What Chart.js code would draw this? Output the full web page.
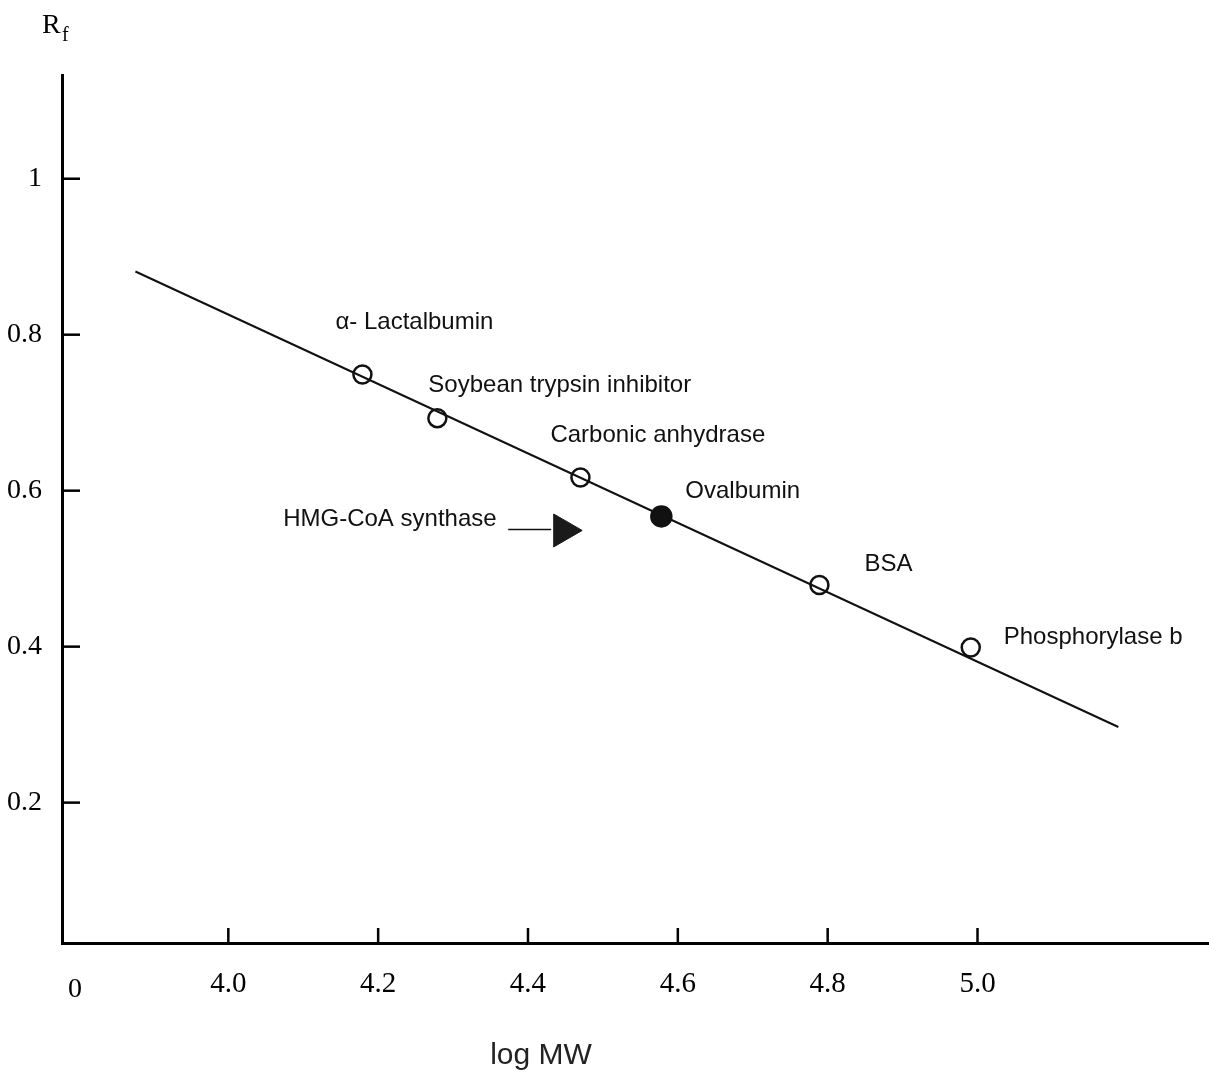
<!DOCTYPE html>
<html>
<head>
<meta charset="utf-8">
<script src="https://cdn.jsdelivr.net/npm/chart.js@4.4.1/dist/chart.umd.min.js"></script>
<style>
html,body{margin:0;padding:0;background:#fff;}
#c{display:block;}
</style>
</head>
<body>
<canvas id="c" width="1209" height="1072"></canvas>
<script>
// ---- data ----
const xTicks = [4.0, 4.2, 4.4, 4.6, 4.8, 5.0];
const yTicks = [0.2, 0.4, 0.6, 0.8, 1.0];
const proteins = ['\u03B1- Lactalbumin', 'Soybean trypsin inhibitor', 'Carbonic anhydrase', 'Ovalbumin', 'BSA', 'Phosphorylase b'];
const logMW = [4.179, 4.279, 4.470, 4.578, 4.789, 4.991];
const rf = [0.749, 0.693, 0.617, 0.567, 0.479, 0.399];
const targetName = 'HMG-CoA synthase';
const targetLogMW = [4.447];
const targetRf = [0.549];
const fitX = [3.876, 5.188];
const fitY = [0.881, 0.297];
const xTitle = 'log MW';
const yTitleMain = 'R';
const yTitleSub = 'f';
const originLabel = '0';

// ---- styles / label placement (pixel offsets from each point) ----
const labelOffsets = [[-27, -52], [-9, -33], [-30, -42], [24, -25], [45, -21], [33, -10]];
const targetLabelOffset = [-280, -11];
const SANS = '"Liberation Sans", Arial, sans-serif';
const SERIF = '"Liberation Serif", "Times New Roman", serif';

const overlay = {
  id: 'overlay',
  afterDraw(chart) {
    const ctx = chart.ctx;
    const xs = chart.scales.x, ys = chart.scales.y;
    const area = chart.chartArea;
    ctx.save();
    ctx.strokeStyle = '#000';
    ctx.fillStyle = '#000';
    // inward tick marks
    ctx.lineWidth = 2.5;
    yTicks.forEach(v => {
      const py = ys.getPixelForValue(v);
      ctx.beginPath(); ctx.moveTo(area.left, py); ctx.lineTo(area.left + 18, py); ctx.stroke();
    });
    xTicks.forEach(v => {
      const px = xs.getPixelForValue(v);
      ctx.beginPath(); ctx.moveTo(px, area.bottom); ctx.lineTo(px, area.bottom - 15); ctx.stroke();
    });
    // protein labels
    ctx.font = '24px ' + SANS;
    ctx.textAlign = 'left';
    ctx.textBaseline = 'middle';
    ctx.fillStyle = '#111';
    proteins.forEach((name, i) => {
      const px = xs.getPixelForValue(logMW[i]);
      const py = ys.getPixelForValue(rf[i]);
      ctx.fillText(name, px + labelOffsets[i][0], py + labelOffsets[i][1]);
    });
    // target label + arrow
    const tx = xs.getPixelForValue(targetLogMW[0]);
    const ty = ys.getPixelForValue(targetRf[0]);
    ctx.fillText(targetName, tx + targetLabelOffset[0], ty + targetLabelOffset[1]);
    ctx.lineWidth = 1.5;
    ctx.strokeStyle = '#111';
    ctx.beginPath(); ctx.moveTo(tx - 55, ty - 1); ctx.lineTo(tx - 12, ty - 1); ctx.stroke();
    // origin label
    ctx.fillStyle = '#000';
    ctx.font = '28px ' + SERIF;
    ctx.textAlign = 'center';
    ctx.fillText(originLabel, area.left + 13, area.bottom + 47);
    // y title R_f
    ctx.textAlign = 'left';
    ctx.font = '28px ' + SERIF;
    ctx.fillText(yTitleMain, 42, 26);
    ctx.font = '20px ' + SERIF;
    ctx.fillText(yTitleSub, 62, 36);
    // x title
    ctx.font = '30px ' + SANS;
    ctx.textAlign = 'center';
    ctx.fillStyle = '#222';
    ctx.fillText(xTitle, 541, 1056);
    ctx.restore();
  }
};

new Chart(document.getElementById('c'), {
  type: 'scatter',
  data: {
    datasets: [
      {
        label: 'Standards',
        data: logMW.map((x, i) => ({x: x, y: rf[i]})),
        pointStyle: 'circle',
        pointRadius: ctx => ctx.dataIndex === 3 ? 10 : 9,
        borderWidth: 2.5,
        borderColor: '#111',
        backgroundColor: ctx => ctx.dataIndex === 3 ? '#111' : 'rgba(0,0,0,0)',
        order: 1
      },
      {
        label: targetName,
        data: targetLogMW.map((x, i) => ({x: x, y: targetRf[i]})),
        pointStyle: 'triangle',
        rotation: 90,
        pointRadius: 19,
        borderWidth: 1,
        borderColor: '#1a1a1a',
        backgroundColor: '#1a1a1a',
        order: 2
      },
      {
        label: 'Fit',
        data: fitX.map((x, i) => ({x: x, y: fitY[i]})),
        showLine: true,
        pointRadius: 0,
        borderWidth: 2,
        borderColor: '#111',
        backgroundColor: '#111',
        order: 3
      }
    ]
  },
  options: {
    responsive: false,
    animation: false,
    devicePixelRatio: 1,
    layout: {autoPadding: false, padding: {top: 75, left: 0, right: 0, bottom: 0}},
    plugins: {legend: {display: false}, tooltip: {enabled: false}},
    scales: {
      x: {
        type: 'linear',
        min: 3.778,
        max: 5.309,
        afterBuildTicks: s => { s.ticks = xTicks.map(v => ({value: v})); },
        afterFit: s => { s.height = 129; s.paddingLeft = 0; s.paddingRight = 0; },
        grid: {display: false},
        border: {display: true, color: '#000', width: 3},
        ticks: {
          color: '#000',
          font: {family: SERIF, size: 29},
          padding: 16,
          maxRotation: 0,
          autoSkip: false,
          callback: v => Number(v).toFixed(1)
        }
      },
      y: {
        type: 'linear',
        min: 0.020,
        max: 1.133,
        afterBuildTicks: s => { s.ticks = yTicks.map(v => ({value: v})); },
        afterFit: s => { s.width = 62; s.paddingTop = 0; s.paddingBottom = 0; },
        grid: {display: false},
        border: {display: true, color: '#000', width: 3},
        ticks: {
          color: '#000',
          font: {family: SERIF, size: 28},
          padding: 12,
          autoSkip: false,
          callback: v => (Math.abs(v - 1) < 1e-9 ? '1' : Number(v).toFixed(1))
        }
      }
    }
  },
  plugins: [overlay]
});
</script>
</body>
</html>
